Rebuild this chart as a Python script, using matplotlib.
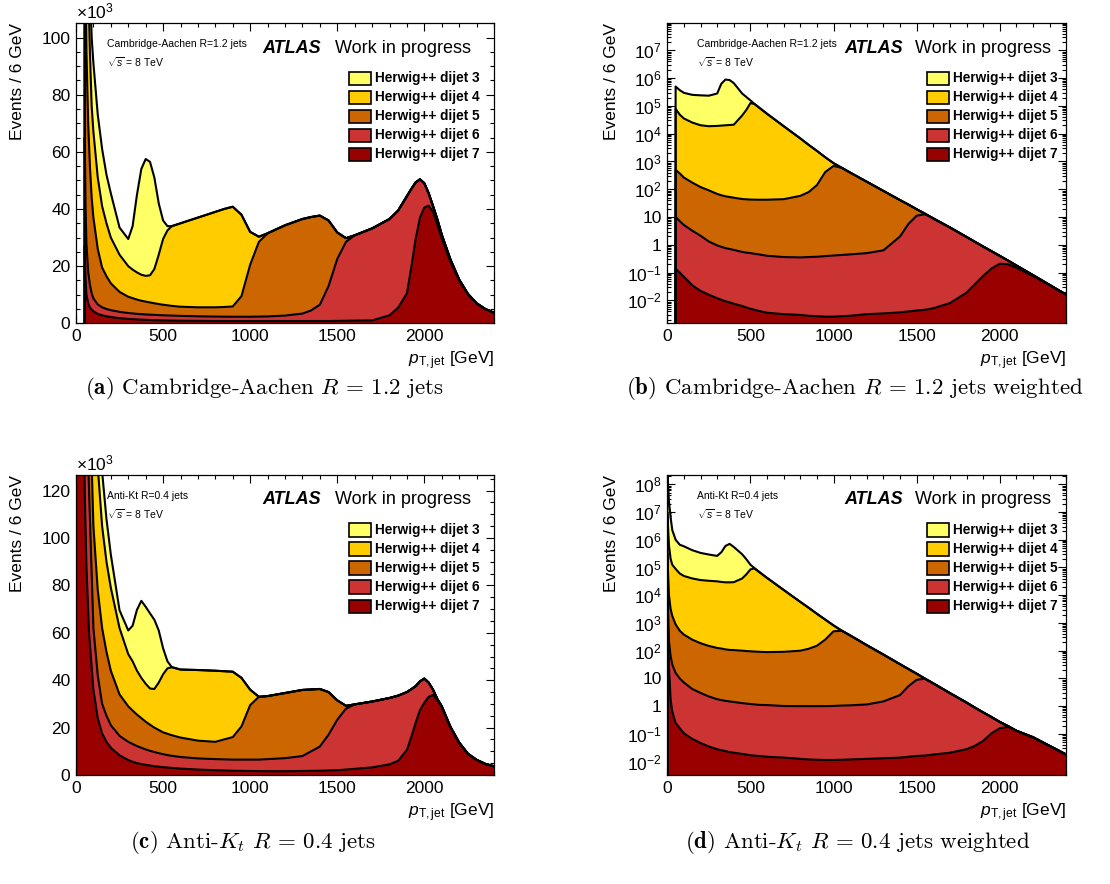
import matplotlib
matplotlib.use("Agg")
import matplotlib.pyplot as plt
import numpy as np
from matplotlib.patches import Rectangle
from matplotlib.ticker import MultipleLocator, FixedLocator, FixedFormatter, LogLocator, NullFormatter

plt.rcParams["font.family"] = ["Liberation Sans", "DejaVu Sans"]
plt.rcParams["mathtext.fontset"] = "custom"
plt.rcParams["mathtext.rm"] = "Liberation Sans"
plt.rcParams["mathtext.it"] = "Liberation Sans:italic"
plt.rcParams["mathtext.bf"] = "Liberation Sans:bold"

SAMPLES = ["Herwig++ dijet 3", "Herwig++ dijet 4", "Herwig++ dijet 5",
           "Herwig++ dijet 6", "Herwig++ dijet 7"]
COLOURS = ["#ffff66", "#ffcc00", "#cc6600", "#cc3333", "#990000"]

# ---- (a) Cambridge-Aachen R=1.2, events in units of 10^3 ----
x_ca = [50, 55, 60, 70, 80, 90, 100, 125, 150, 175,
        200, 250, 300, 325, 350, 375, 400, 425, 450, 475,
        500, 525, 550, 600, 700, 800, 850, 900, 950, 1000,
        1050, 1100, 1200, 1300, 1350, 1400, 1450, 1500, 1550, 1600,
        1700, 1800, 1850, 1900, 1925, 1950, 1975, 2000, 2025, 2050,
        2075, 2100, 2150, 2200, 2250, 2300, 2350, 2400]
ca_dijet3 = [150, 110, 70, 45, 25, 24, 24, 22, 20, 17,
             15.5, 9.5, 9.5, 15.2, 27.2, 37, 40.9, 39.7, 32, 18,
             6.5, 1.5, 0, 0, 0, 0, 0, 0, 0, 0,
             0, 0, 0, 0, 0, 0, 0, 0, 0, 0,
             0, 0, 0, 0, 0, 0, 0, 0, 0, 0,
             0, 0, 0, 0, 0, 0, 0, 0]
ca_dijet4 = [90, 70, 65, 50, 40, 32, 30, 25, 21.5, 18.5,
             16, 13, 10.7, 10, 9.5, 9.1, 9.0, 9.5, 12, 17.25,
             23, 26.2, 27.9, 29.2, 31.4, 33.4, 34.3, 34.9, 28.5, 11.5,
             1.8, 0, 0, 0, 0, 0, 0, 0, 0, 0,
             0, 0, 0, 0, 0, 0, 0, 0, 0, 0,
             0, 0, 0, 0, 0, 0, 0, 0]
ca_dijet5 = [95, 80, 67, 52, 41.5, 33.5, 28.3, 19.4, 13.9, 11.5,
             9.4, 7.0, 5.7, 5.35, 5.0, 4.7, 4.5, 4.28, 4.05, 3.88,
             3.7, 3.55, 3.4, 3.2, 3.15, 3.25, 3.38, 3.6, 7.2, 18.2,
             26.15, 29.1, 31.6, 33.1, 32.7, 31.2, 23, 9.3, 1.3, 0,
             0, 0, 0, 0, 0, 0, 0, 0, 0, 0,
             0, 0, 0, 0, 0, 0, 0, 0]
ca_dijet6 = [38, 25, 18, 11, 8, 5.7, 4.5, 3.3, 2.8, 2.55,
             2.4, 2.2, 2.05, 2.0, 1.95, 1.93, 1.9, 1.87, 1.85, 1.82,
             1.8, 1.78, 1.75, 1.7, 1.6, 1.55, 1.52, 1.5, 1.5, 1.5,
             1.55, 1.6, 1.9, 2.6, 3.7, 5.7, 12.2, 21.65, 27.6, 29.85,
             32.2, 33.7, 34, 34, 27.5, 19.8, 13.4, 8.5, 4.3, 2,
             1.8, 1.3, 0.8, 0.3, 0.1, 0, 0, 0]
ca_dijet7 = [27, 15, 10, 7, 5.5, 4.8, 4.2, 3.3, 2.8, 2.45,
             2.2, 1.8, 1.55, 1.45, 1.35, 1.27, 1.2, 1.15, 1.1, 1.05,
             1.0, 0.97, 0.95, 0.9, 0.85, 0.8, 0.8, 0.8, 0.8, 0.8,
             0.8, 0.8, 0.8, 0.8, 0.8, 0.8, 0.8, 0.85, 0.9, 0.95,
             1.0, 2.8, 5.5, 10.5, 19.5, 29.5, 37, 40.5, 41.2, 39,
             34.5, 29.7, 21.5, 15, 10.2, 7, 5, 3.7]

# ---- (b) Cambridge-Aachen R=1.2 weighted ----
x_caw = [50, 75, 100, 150, 200, 250, 300, 325, 350, 375,
         400, 450, 475, 500, 525, 550, 600, 700, 800, 850,
         900, 950, 1000, 1050, 1100, 1200, 1300, 1400, 1450, 1500,
         1550, 1600, 1700, 1800, 1850, 1900, 1950, 2000, 2050, 2100,
         2200, 2300, 2400]
caw_dijet3 = [4.2e5, 3.2e5, 2.6e5, 2.25e5, 2.2e5, 2.15e5, 2.6e5, 6.1e5, 8.7e5, 8.3e5,
              6.4e5, 2.35e5, 1.39e5, 3.2e4, 0, 0, 0, 0, 0, 0,
              0, 0, 0, 0, 0, 0, 0, 0, 0, 0,
              0, 0, 0, 0, 0, 0, 0, 0, 0, 0,
              0, 0, 0]
caw_dijet4 = [7.8e4, 4.8e4, 3.5e4, 2.5e4, 2.0e4, 1.85e4, 1.9e4, 1.95e4, 2.0e4, 2.05e4,
              2.1e4, 4.5e4, 7.1e4, 1.26e5, 1.17e5, 8.9e4, 5.2e4, 1.86e4, 6.7e3, 3.9e3,
              2.26e3, 1.0e3, 180, 0, 0, 0, 0, 0, 0, 0,
              0, 0, 0, 0, 0, 0, 0, 0, 0, 0,
              0, 0, 0]
caw_dijet5 = [490, 365, 258, 171, 118, 90, 67, 60, 55, 52,
              49, 44, 43, 42, 41.8, 41.5, 41.6, 43.6, 57.6, 78.6,
              141, 417, 690, 589, 398, 186, 86.5, 38.7, 22.6, 7.9,
              0.6, 0, 0, 0, 0, 0, 0, 0, 0, 0,
              0, 0, 0]
caw_dijet6 = [9.9, 7.0, 5.1, 3.2, 2.1, 1.3, 0.94, 0.84, 0.75, 0.70,
              0.65, 0.55, 0.52, 0.50, 0.47, 0.45, 0.40, 0.36, 0.35, 0.36,
              0.37, 0.39, 0.41, 0.43, 0.45, 0.50, 0.63, 2.0, 5.6, 11.2,
              12.6, 8.9, 4.2, 1.9, 1.25, 0.79, 0.45, 0.19, 0.07, 0.03,
              0.005, 0.001, 0.0]
caw_dijet7 = [0.138, 0.1, 0.071, 0.035, 0.022, 0.016, 0.012, 0.0105, 0.0093, 0.0085,
              0.0076, 0.0063, 0.0056, 0.005, 0.0046, 0.0042, 0.0036, 0.0032, 0.003, 0.0028,
              0.0027, 0.0026, 0.0026, 0.0027, 0.0028, 0.0032, 0.0034, 0.0037, 0.004, 0.0043,
              0.0046, 0.0052, 0.008, 0.019, 0.038, 0.076, 0.14, 0.21, 0.2, 0.15,
              0.076, 0.035, 0.016]

# ---- (c) Anti-Kt R=0.4, events in units of 10^3 ----
x_akt = [0, 25, 50, 60, 75, 100, 125, 150, 175, 200,
         250, 300, 325, 350, 375, 400, 425, 450, 475, 500,
         525, 550, 600, 700, 800, 900, 950, 1000, 1050, 1100,
         1200, 1300, 1400, 1450, 1500, 1550, 1600, 1700, 1800, 1850,
         1900, 1925, 1950, 1975, 2000, 2025, 2050, 2075, 2100, 2150,
         2200, 2250, 2300, 2350, 2400]
akt_dijet3 = [500, 500, 200, 150, 100, 55, 35, 23, 18, 14,
              7.5, 10, 15, 25.7, 32.5, 32.5, 31.7, 29.2, 22, 11,
              3, 0, 0, 0, 0, 0, 0, 0, 0, 0,
              0, 0, 0, 0, 0, 0, 0, 0, 0, 0,
              0, 0, 0, 0, 0, 0, 0, 0, 0, 0,
              0, 0, 0, 0, 0]
akt_dijet4 = [500, 100, 100, 70, 50, 60, 52, 43, 38, 35,
              28, 22, 20.8, 18.5, 17, 16, 15.3, 16.3, 20, 24.5,
              27.6, 28.7, 28.7, 29.8, 30, 27.6, 20.5, 6.5, 0, 0,
              0, 0, 0, 0, 0, 0, 0, 0, 0, 0,
              0, 0, 0, 0, 0, 0, 0, 0, 0, 0,
              0, 0, 0, 0, 0]
akt_dijet5 = [500, 300, 100, 70, 50, 43, 36, 32, 27, 23,
              17.5, 15, 14.1, 13.3, 12.5, 11.7, 11, 10.3, 9.8, 9.2,
              9.0, 8.7, 8.2, 7.5, 7.3, 9.5, 14, 23, 26.5, 26.6,
              27.5, 27.9, 24.3, 18, 8.2, 1.2, 0, 0, 0, 0,
              0, 0, 0, 0, 0, 0, 0, 0, 0, 0,
              0, 0, 0, 0, 0]
akt_dijet6 = [500, 200, 80, 72, 60, 26, 18, 12.5, 11, 9.5,
              8.2, 7.7, 7.5, 7.2, 6.9, 6.5, 6.2, 6.0, 5.7, 5.5,
              5.25, 5.1, 4.9, 4.7, 4.7, 4.7, 4.75, 4.8, 4.85, 5.1,
              5.5, 6.3, 10.2, 15.1, 21.3, 25.7, 27.2, 27.8, 28, 27.5,
              24.4, 20.2, 15.5, 12.1, 10.2, 6, 2.2, 0.5, 0.2, 0.3,
              0.2, 0.2, 0.1, 0.1, 0.1]
akt_dijet7 = [1000, 400, 120, 88, 60, 36, 24, 17.5, 14, 11.5,
              8.3, 6.3, 5.6, 5.0, 4.6, 4.3, 4.0, 3.7, 3.5, 3.3,
              3.15, 3.0, 2.7, 2.3, 2.0, 1.8, 1.75, 1.7, 1.65, 1.6,
              1.6, 1.7, 1.8, 1.9, 2.0, 2.3, 2.6, 3.2, 4.5, 6,
              10.6, 16, 22, 27.4, 30.5, 33, 33.8, 31.5, 28.8, 20,
              13.5, 8.8, 6.3, 4.6, 3.6]

# ---- (d) Anti-Kt R=0.4 weighted ----
x_aktw = [0, 10, 20, 30, 50, 75, 100, 150, 200, 250,
          300, 325, 350, 375, 400, 450, 475, 500, 525, 550,
          600, 700, 800, 850, 900, 950, 1000, 1050, 1100, 1200,
          1300, 1400, 1450, 1500, 1550, 1600, 1700, 1800, 1850, 1900,
          1950, 2000, 2050, 2100, 2200, 2300, 2400]
aktw_dijet3 = [3.1e8, 2.4e7, 6.1e6, 2.1e6, 9.1e5, 6.0e5, 5.3e5, 3.8e5, 3.0e5, 2.6e5,
               2.3e5, 3.25e5, 5.7e5, 6.8e5, 5.2e5, 2.6e5, 1.44e5, 4.1e4, 0, 0,
               0, 0, 0, 0, 0, 0, 0, 0, 0, 0,
               0, 0, 0, 0, 0, 0, 0, 0, 0, 0,
               0, 0, 0, 0, 0, 0, 0]
aktw_dijet4 = [9.7e6, 6.2e5, 2.0e5, 1.24e5, 8.8e4, 6.0e4, 4.9e4, 4.0e4, 3.5e4, 3.3e4,
               3.15e4, 3.0e4, 2.9e4, 2.9e4, 2.94e4, 4.0e4, 5.6e4, 8.5e4, 9.3e4, 7.1e4,
               4.2e4, 1.54e4, 5.65e3, 3.43e3, 1.99e3, 1.07e3, 312, 0, 0, 0,
               0, 0, 0, 0, 0, 0, 0, 0, 0, 0,
               0, 0, 0, 0, 0, 0, 0]
aktw_dijet5 = [2.9e5, 9.8e3, 3.1e3, 1.77e3, 874, 515, 373, 246, 183, 146,
               124, 118, 110, 105, 104, 99, 96, 94, 92, 90,
               88, 90, 99, 116, 150, 250, 500, 524, 354, 157,
               71, 30, 16.7, 5.9, 0, 0, 0, 0, 0, 0,
               0, 0, 0, 0, 0, 0, 0]
aktw_dijet6 = [2.9e4, 190, 61, 31, 15.5, 9.8, 7.0, 4.1, 2.95, 2.2,
               1.75, 1.63, 1.53, 1.46, 1.39, 1.27, 1.22, 1.18, 1.14, 1.1,
               1.08, 1.0, 0.99, 0.99, 0.99, 0.99, 1.01, 1.04, 1.06, 1.14,
               1.47, 2.5, 5.2, 8.9, 9.8, 6.6, 2.93, 1.32, 0.85, 0.54,
               0.3, 0.11, 0.01, 0.001, 0.002, 0.001, 0.0006]
aktw_dijet7 = [3.2e3, 25, 1.7, 0.63, 0.25, 0.16, 0.105, 0.066, 0.047, 0.035,
               0.028, 0.026, 0.024, 0.022, 0.021, 0.019, 0.018, 0.017, 0.0165, 0.016,
               0.015, 0.014, 0.0126, 0.012, 0.0117, 0.0115, 0.0115, 0.0117, 0.012, 0.0126,
               0.0132, 0.014, 0.015, 0.016, 0.0166, 0.018, 0.021, 0.028, 0.037, 0.056,
               0.105, 0.16, 0.18, 0.129, 0.074, 0.036, 0.0174]

W, H = 1110, 884


def axes_box(left, top, width, height):
    return [left / W, 1 - (top + height) / H, width / W, height / H]


def draw_stack(ax, x, samples, floor):
    x = np.asarray(x, float)
    # cumulative sums from dijet 7 (bottom) up to the full stack
    layers = np.cumsum(np.array(samples[::-1], float), axis=0)[::-1]
    for top, colour in zip(layers, COLOURS):
        ax.fill_between(x, floor, top, color=colour, lw=0, zorder=2)
        ax.plot(np.r_[x[0], x], np.r_[floor, top], color="k", lw=1.5, zorder=3,
                solid_joinstyle="round")


def decorate(ax, jet_text):
    ax.set_xlim(0, 2400)
    ax.xaxis.set_major_locator(MultipleLocator(500))
    ax.xaxis.set_minor_locator(MultipleLocator(100))
    ax.tick_params(which="both", direction="in", top=True, right=True, labelsize=12.5,
                   width=0.8, pad=4)
    ax.tick_params(which="major", length=6)
    ax.tick_params(which="minor", length=3)
    for s in ax.spines.values():
        s.set_linewidth(0.9)
        s.set_zorder(5)
    ax.set_xlabel(r"$p_{\mathrm{T,jet}}$ [GeV]", fontsize=12.5, ha="right", va="center")
    ax.xaxis.set_label_coords(1.0, -0.125)
    ax.set_ylabel("Events / 6 GeV", fontsize=12.5, ha="right", va="center")
    ax.yaxis.set_label_coords(-0.139, 1.0)

    ax.text(0.074, 0.931, jet_text, transform=ax.transAxes, fontsize=7.5, va="center", zorder=6)
    ax.text(0.074, 0.869, r"$\sqrt{s}$ = 8 TeV", transform=ax.transAxes, fontsize=7.5,
            va="center", zorder=6)
    ax.text(0.445, 0.917, "ATLAS", transform=ax.transAxes, fontsize=13, fontweight="bold",
            fontstyle="italic", va="center", zorder=6)
    ax.text(0.62, 0.917, "Work in progress", transform=ax.transAxes, fontsize=13,
            va="center", zorder=6)

    for i, (name, colour) in enumerate(zip(SAMPLES, COLOURS)):
        yc = 0.817 - i * 0.0635
        ax.add_patch(Rectangle((0.652, yc - 0.022), 0.053, 0.044, transform=ax.transAxes,
                               facecolor=colour, edgecolor="k", lw=1.2, zorder=6))
        ax.text(0.715, yc, name, transform=ax.transAxes, fontsize=9.8, fontweight="bold",
                va="center", zorder=6)


def linear_axis(ax, ymax):
    ax.set_ylim(0, ymax)
    ax.yaxis.set_major_locator(MultipleLocator(20))
    ax.yaxis.set_minor_locator(MultipleLocator(5))
    ax.text(0.0, 1.005, r"$\times10^{3}$", transform=ax.transAxes, fontsize=12.5,
            ha="left", va="bottom")


def log_axis(ax, ymin, ymax, kmax):
    ax.set_yscale("log")
    ax.set_ylim(ymin, ymax)
    exps = list(range(-2, kmax + 1))
    labels = []
    for k in exps:
        if k == 0:
            labels.append("1")
        elif k == 1:
            labels.append("10")
        else:
            labels.append(r"$10^{%d}$" % k)
    ax.yaxis.set_major_locator(FixedLocator([10.0 ** k for k in exps]))
    ax.yaxis.set_major_formatter(FixedFormatter(labels))
    ax.yaxis.set_minor_locator(LogLocator(base=10, subs=np.arange(2, 10), numticks=30))
    ax.yaxis.set_minor_formatter(NullFormatter())


fig = plt.figure(figsize=(W / 100, H / 100), dpi=100)

ax_a = fig.add_axes(axes_box(76, 23.3, 418, 300))
draw_stack(ax_a, x_ca, [ca_dijet3, ca_dijet4, ca_dijet5, ca_dijet6, ca_dijet7], 0.0)
linear_axis(ax_a, 105)
decorate(ax_a, "Cambridge-Aachen R=1.2 jets")

ax_b = fig.add_axes(axes_box(667.3, 23.3, 399, 300))
draw_stack(ax_b, x_caw, [caw_dijet3, caw_dijet4, caw_dijet5, caw_dijet6, caw_dijet7], 1e-9)
log_axis(ax_b, 1.5e-3, 9.4e7, 7)
decorate(ax_b, "Cambridge-Aachen R=1.2 jets")

ax_c = fig.add_axes(axes_box(76, 475, 418, 300))
draw_stack(ax_c, x_akt, [akt_dijet3, akt_dijet4, akt_dijet5, akt_dijet6, akt_dijet7], 0.0)
linear_axis(ax_c, 126.6)
decorate(ax_c, "Anti-Kt R=0.4 jets")

ax_d = fig.add_axes(axes_box(667.3, 475, 399, 300))
draw_stack(ax_d, x_aktw, [aktw_dijet3, aktw_dijet4, aktw_dijet5, aktw_dijet6, aktw_dijet7], 1e-9)
log_axis(ax_d, 3.3e-3, 2.16e8, 8)
decorate(ax_d, "Anti-Kt R=0.4 jets")

captions = [
    (264, 389, r"$\mathbf{(a)}$ Cambridge-Aachen $R\,=\,1.2$ jets"),
    (855, 389, r"$\mathbf{(b)}$ Cambridge-Aachen $R\,=\,1.2$ jets weighted"),
    (253, 842, r"$\mathbf{(c)}$ Anti-$K_t$ $R\,=\,0.4$ jets"),
    (858, 842, r"$\mathbf{(d)}$ Anti-$K_t$ $R\,=\,0.4$ jets weighted"),
]
for cx, cy, txt in captions:
    fig.text(cx / W, 1 - cy / H, txt, ha="center", va="center", fontsize=16.5,
             family="cmr10", math_fontfamily="cm")

fig.savefig("out.png", dpi=100)
